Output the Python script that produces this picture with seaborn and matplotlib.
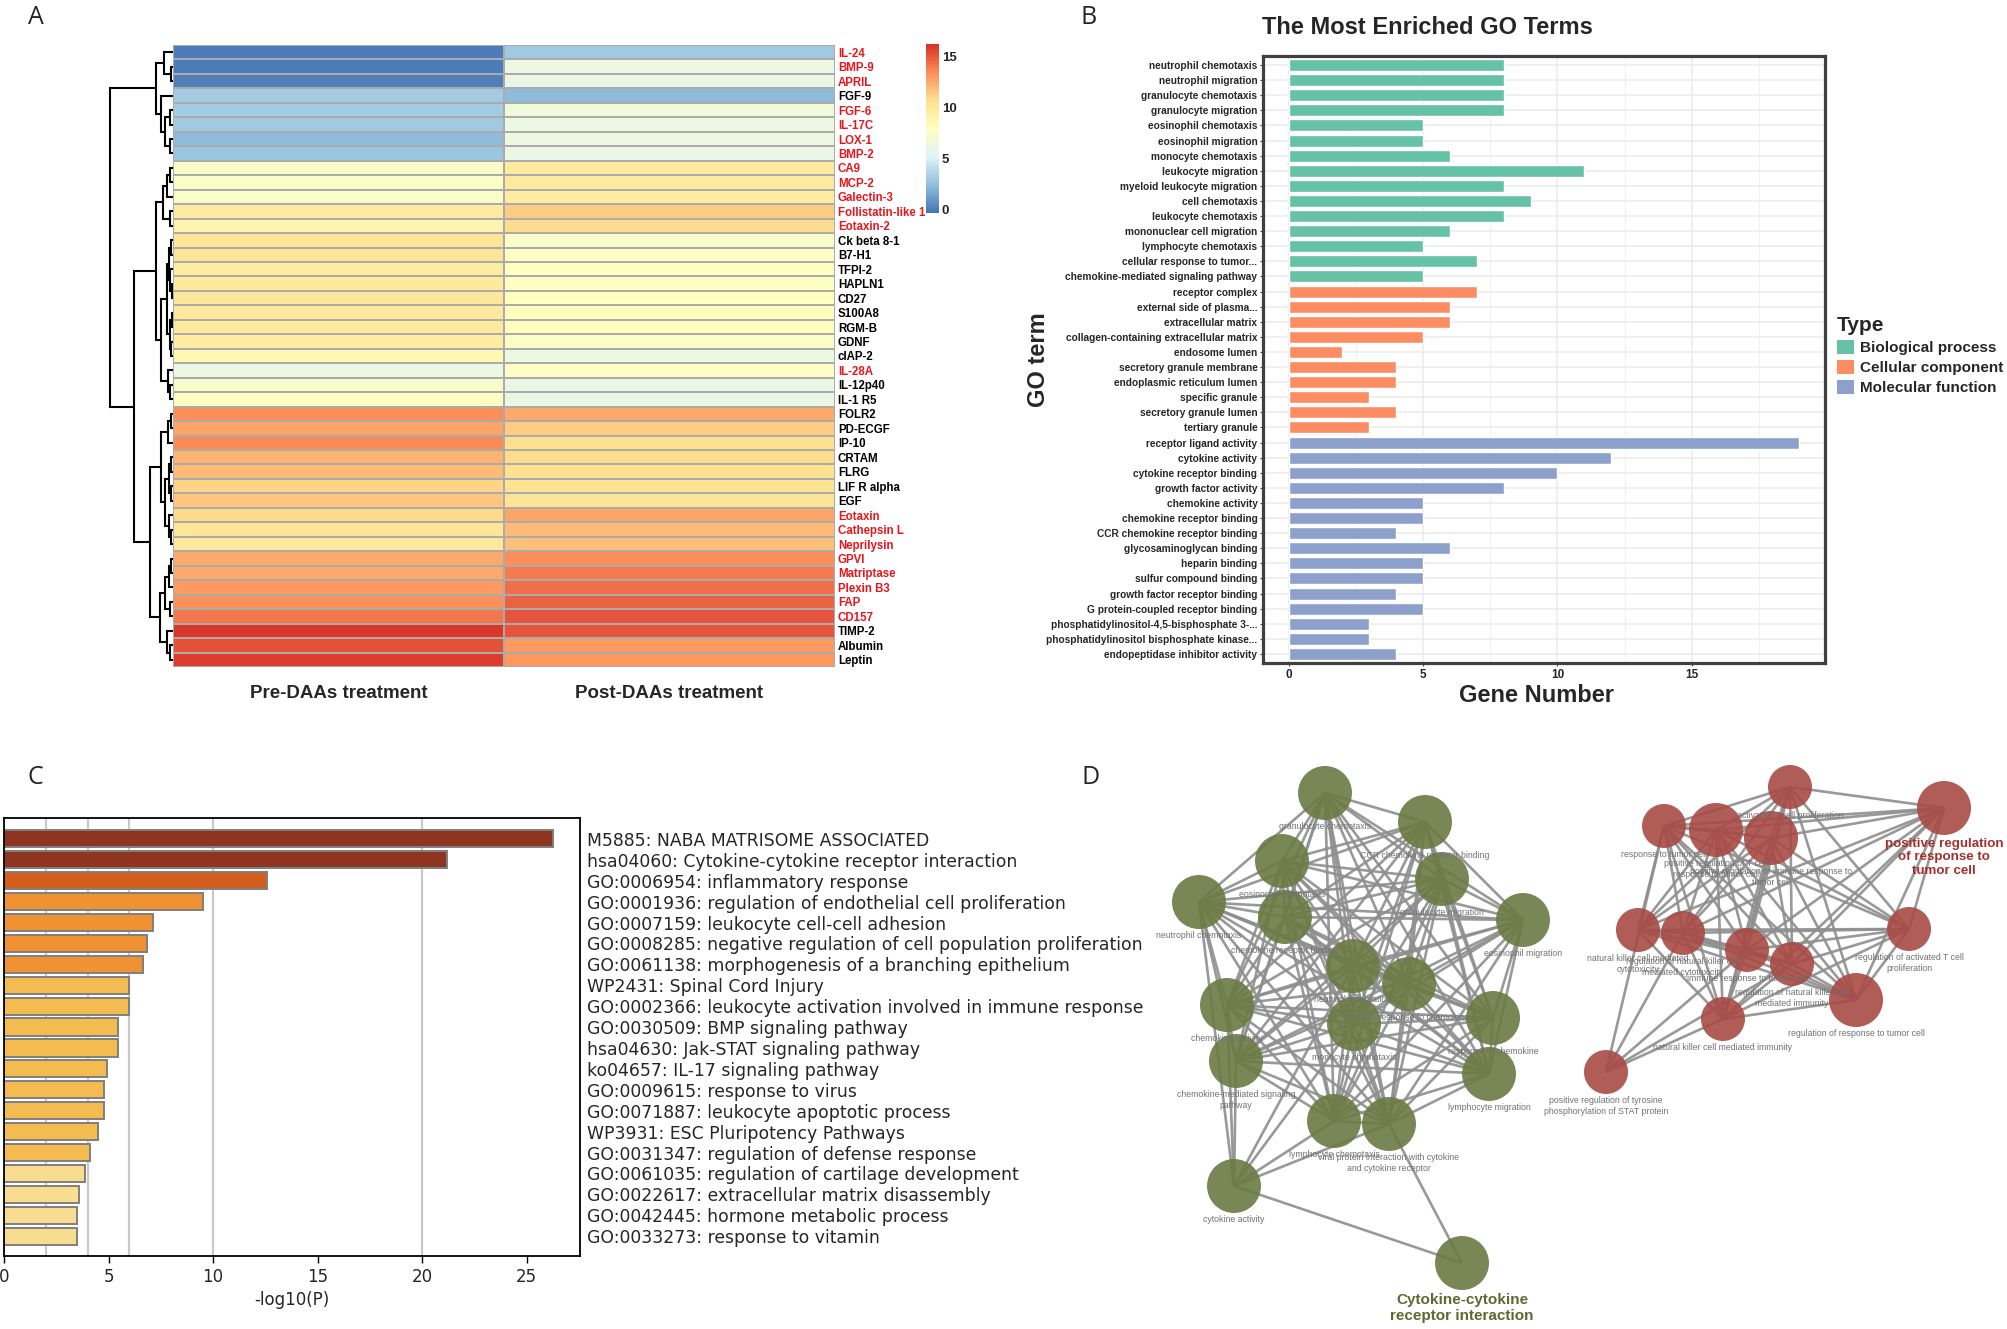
import itertools
import pandas as pd
import seaborn as sns
import matplotlib
matplotlib.use("Agg")
import matplotlib.pyplot as plt
from matplotlib import font_manager
from matplotlib.colors import LinearSegmentedColormap
from matplotlib.collections import LineCollection
from matplotlib.patches import Patch
from matplotlib.ticker import MultipleLocator

W, H = 2008, 1329

## A: cytokine heatmap ##
genes = ["IL-24", "BMP-9", "APRIL", "FGF-9", "FGF-6", "IL-17C", "LOX-1", "BMP-2",
         "CA9", "MCP-2", "Galectin-3", "Follistatin-like 1", "Eotaxin-2", "Ck beta 8-1",
         "B7-H1", "TFPI-2", "HAPLN1", "CD27", "S100A8", "RGM-B", "GDNF", "cIAP-2",
         "IL-28A", "IL-12p40", "IL-1 R5", "FOLR2", "PD-ECGF", "IP-10", "CRTAM", "FLRG",
         "LIF R alpha", "EGF", "Eotaxin", "Cathepsin L", "Neprilysin", "GPVI",
         "Matriptase", "Plexin B3", "FAP", "CD157", "TIMP-2", "Albumin", "Leptin"]
red_genes = ["IL-24", "BMP-9", "APRIL", "FGF-6", "IL-17C", "LOX-1", "BMP-2", "CA9",
             "MCP-2", "Galectin-3", "Follistatin-like 1", "Eotaxin-2", "IL-28A", "Eotaxin",
             "Cathepsin L", "Neprilysin", "GPVI", "Matriptase", "Plexin B3", "FAP", "CD157"]
pre = [0.0, 0.0, 0.1, 3.1, 3.1, 3.0, 2.4, 2.8,
       7.6, 7.6, 7.5, 9.7, 9.0, 10.3,
       10.3, 9.6, 9.9, 10.1, 10.0, 9.8, 9.6, 8.7,
       6.3, 7.3, 7.8, 13.4, 12.6, 13.5, 12.2, 11.9,
       11.1, 11.6, 10.9, 10.2, 10.0, 12.5,
       12.5, 13.0, 13.3, 14.1, 16.0, 15.2, 15.8]
post = [3.0, 6.3, 6.2, 2.3, 6.6, 6.3, 6.3, 6.2,
        9.8, 9.8, 9.6, 11.4, 10.8, 7.4,
        7.7, 7.9, 7.8, 7.9, 8.0, 8.0, 7.6, 6.4,
        7.7, 6.1, 6.1, 12.5, 11.4, 10.7, 10.8, 10.6,
        10.4, 10.3, 12.6, 11.9, 11.8, 13.4,
        14.0, 14.3, 14.7, 15.1, 15.1, 13.0, 13.1]
col_names = ["Pre-DAAs treatment", "Post-DAAs treatment"]
cbar_ticks = [0, 5, 10, 15]

# row dendrogram: (height, left, right), leaves are row numbers
row_tree = (1.0,
            (0.27, (0.14, 0, (0.03, 1, 2)),
                   (0.19, 3, (0.12, (0.04, 4, 5), (0.05, 6, 7)))),
            (0.62,
             (0.27, (0.16, (0.10, (0.04, 8, 9), 10), (0.05, 11, 12)),
                    (0.19, (0.10, (0.06, (0.03, 13, 14), (0.04, 15, (0.02, 16, 17))),
                                  (0.05, (0.02, 18, 19), (0.03, 20, 21))),
                           (0.08, 22, (0.04, 23, 24)))),
             (0.365, (0.19, (0.08, (0.03, 25, 26), 27),
                            (0.12, (0.06, (0.03, 28, 29), (0.03, 30, 31)),
                                   (0.07, 32, (0.03, 33, 34)))),
                     (0.21, (0.13, (0.06, (0.03, 35, 36), 37), (0.05, 38, 39)),
                            (0.10, 40, (0.05, 41, 42))))))

## B: GO terms ##
go_terms = ["neutrophil chemotaxis", "neutrophil migration", "granulocyte chemotaxis",
            "granulocyte migration", "eosinophil chemotaxis", "eosinophil migration",
            "monocyte chemotaxis", "leukocyte migration", "myeloid leukocyte migration",
            "cell chemotaxis", "leukocyte chemotaxis", "mononuclear cell migration",
            "lymphocyte chemotaxis", "cellular response to tumor...",
            "chemokine-mediated signaling pathway",
            "receptor complex", "external side of plasma...", "extracellular matrix",
            "collagen-containing extracellular matrix", "endosome lumen",
            "secretory granule membrane", "endoplasmic reticulum lumen", "specific granule",
            "secretory granule lumen", "tertiary granule",
            "receptor ligand activity", "cytokine activity", "cytokine receptor binding",
            "growth factor activity", "chemokine activity", "chemokine receptor binding",
            "CCR chemokine receptor binding", "glycosaminoglycan binding", "heparin binding",
            "sulfur compound binding", "growth factor receptor binding",
            "G protein-coupled receptor binding", "phosphatidylinositol-4,5-bisphosphate 3-...",
            "phosphatidylinositol bisphosphate kinase...", "endopeptidase inhibitor activity"]
go_counts = [8, 8, 8, 8, 5, 5, 6, 11, 8, 9, 8, 6, 5, 7, 5,
             7, 6, 6, 5, 2, 4, 4, 3, 4, 3,
             19, 12, 10, 8, 5, 5, 4, 6, 5, 5, 4, 5, 3, 3, 4]
go_types = (["Biological process"] * 15 + ["Cellular component"] * 10
            + ["Molecular function"] * 15)
type_colors = {"Biological process": "#66C2A5",
               "Cellular component": "#FC8D62",
               "Molecular function": "#8DA0CB"}

## C: enrichment bars ##
c_terms = ["M5885: NABA MATRISOME ASSOCIATED",
           "hsa04060: Cytokine-cytokine receptor interaction",
           "GO:0006954: inflammatory response",
           "GO:0001936: regulation of endothelial cell proliferation",
           "GO:0007159: leukocyte cell-cell adhesion",
           "GO:0008285: negative regulation of cell population proliferation",
           "GO:0061138: morphogenesis of a branching epithelium",
           "WP2431: Spinal Cord Injury",
           "GO:0002366: leukocyte activation involved in immune response",
           "GO:0030509: BMP signaling pathway",
           "hsa04630: Jak-STAT signaling pathway",
           "ko04657: IL-17 signaling pathway",
           "GO:0009615: response to virus",
           "GO:0071887: leukocyte apoptotic process",
           "WP3931: ESC Pluripotency Pathways",
           "GO:0031347: regulation of defense response",
           "GO:0061035: regulation of cartilage development",
           "GO:0022617: extracellular matrix disassembly",
           "GO:0042445: hormone metabolic process",
           "GO:0033273: response to vitamin"]
c_vals = [26.26, 21.18, 12.59, 9.50, 7.15, 6.84, 6.63, 6.00, 5.96, 5.47,
          5.43, 4.94, 4.77, 4.77, 4.49, 4.10, 3.89, 3.58, 3.51, 3.51]
c_colors = ["#8E3522", "#8E3522", "#D35E1B", "#F09233", "#F09233", "#F09233", "#F09233",
            "#F4BC50", "#F4BC50", "#F4BC50", "#F4BC50", "#F4BC50", "#F4BC50", "#F4BC50",
            "#F4BC50", "#F4BC50", "#F8DC90", "#F8DC90", "#F8DC90", "#F8DC90"]
c_lines = [2, 4, 6, 10, 20]

## D: enrichment network (Cytoscape layout units) ##
green_labels = ["granulocyte chemotaxis", "CCR chemokine receptor binding",
                "eosinophil chemotaxis", "neutrophil chemotaxis", "granulocyte migration",
                "chemokine receptor binding", "eosinophil migration", "neutrophil migration",
                "cellular response to chemokine", "chemokine activity", "monocyte chemotaxis",
                "response to chemokine", "chemokine-mediated signaling\npathway",
                "lymphocyte migration", "lymphocyte chemotaxis",
                "viral protein interaction with cytokine\nand cytokine receptor",
                "cytokine activity", "Cytokine-cytokine\nreceptor interaction"]
green_x = [1325, 1425, 1282, 1199, 1442, 1285, 1523, 1353, 1409, 1227, 1354, 1493, 1236,
           1489, 1334, 1389, 1234, 1462]
green_y = [793, 822, 861, 902, 879, 917, 920, 966, 984, 1005, 1024, 1018, 1061,
           1074, 1121, 1124, 1186, 1263]
green_r = [27] * 18
green_clique = list(range(16))
green_extra = [(16, 3), (16, 9), (16, 12), (16, 14), (16, 15), (16, 10), (16, 7),
               (16, 17), (17, 15)]

red_labels = ["activated T cell proliferation", "positive regulation\nof response to\ntumor cell",
              "response to tumor cell", "positive regulation of T cell\nresponse to tumor cell",
              "positive regulation of immune response to\ntumor cell",
              "natural killer cell mediated\ncytotoxicity",
              "regulation of natural killer cell\nmediated cytotoxicity",
              "immune response to tumor cell",
              "regulation of natural killer cell\nmediated immunity",
              "regulation of activated T cell\nproliferation",
              "regulation of response to tumor cell", "natural killer cell mediated immunity",
              "positive regulation of tyrosine\nphosphorylation of STAT protein"]
red_x = [1790, 1944, 1664, 1716, 1771, 1638, 1683, 1747, 1792, 1909, 1856, 1723, 1606]
red_y = [787, 808, 826, 830, 838, 930, 933, 950, 964, 929, 1000, 1019, 1072]
red_r = [22, 27, 22, 27, 27, 22, 22, 22, 22, 22, 27, 22, 22]
red_clique = list(range(12))
red_extra = [(12, 2), (12, 6), (12, 11), (12, 8), (12, 7)]

# ---------------------------------------------------------------- style
sns.set_theme(style="white")
installed = {f.name for f in font_manager.fontManager.ttflist}
NARROW = "Liberation Sans Narrow" if "Liberation Sans Narrow" in installed else "Liberation Sans"
plt.rcParams["font.family"] = ["Liberation Sans", "DejaVu Sans"]

fig = plt.figure(figsize=(W / 100, H / 100), dpi=100)


def box(l, t, r, b):
    return fig.add_axes([l / W, 1 - b / H, (r - l) / W, (b - t) / H])


# ---------------------------------------------------------------- A
axA = box(173, 45, 835, 667)
cax = box(926, 44, 939, 213)
axDen = box(105, 45, 173, 667)

pheat = LinearSegmentedColormap.from_list(
    "pheat", ["#4575B4", "#91BFDB", "#E0F3F8", "#FFFFBF", "#FEE090", "#FC8D59", "#D73027"])
heat_df = pd.DataFrame({col_names[0]: pre, col_names[1]: post}, index=genes)
sns.heatmap(heat_df, ax=axA, cmap=pheat, vmin=-0.3, vmax=16.2, linewidths=1.4,
            linecolor="#ABABAB", cbar_ax=cax, cbar_kws={"ticks": cbar_ticks},
            yticklabels=True)
axA.set_xlabel("")
axA.set_ylabel("")
axA.yaxis.tick_right()
axA.tick_params(axis="y", length=0, pad=2, labelsize=8.3, labelrotation=0)
for t in axA.get_yticklabels():
    t.set_color("#E8161C" if t.get_text() in red_genes else "black")
    t.set_fontweight("bold")
    t.set_fontfamily(NARROW)
axA.tick_params(axis="x", length=0, pad=13, labelsize=13.5, labelrotation=0)
for t in axA.get_xticklabels():
    t.set_fontweight("bold")
cbar = axA.collections[0].colorbar
cbar.outline.set_visible(False)
cax.tick_params(length=0, labelsize=9.5, pad=2)
for t in cax.get_yticklabels():
    t.set_fontweight("bold")


def draw_tree(node):
    if isinstance(node, int):
        return node + 0.5, 0.0
    h, left, right = node
    yl, hl = draw_tree(left)
    yr, hr = draw_tree(right)
    axDen.plot([hl, h, h, hr], [yl, yl, yr, yr], color="black", lw=1.5,
               solid_joinstyle="miter")
    return (yl + yr) / 2, h


draw_tree(row_tree)
axDen.set_xlim(1.079, 0)
axDen.set_ylim(len(genes), 0)
axDen.axis("off")

# ---------------------------------------------------------------- B
axB = box(1263, 56, 1825, 663)
go_df = pd.DataFrame({"term": go_terms, "count": go_counts, "type": go_types})
sns.barplot(data=go_df, x="count", y="term", hue="type", palette=type_colors,
            order=go_terms, dodge=False, width=0.8, saturation=1, legend=False, ax=axB)
axB.set_xlim(-0.95, 19.95)
axB.set_ylim(39.6, -0.6)
axB.set_xticks([0, 5, 10, 15])
axB.xaxis.set_minor_locator(MultipleLocator(2.5))
axB.set_axisbelow(True)
axB.grid(True, which="major", color="#EBEBEB", lw=1.1)
axB.grid(True, which="minor", axis="x", color="#F0F0F0", lw=0.7)
for s in axB.spines.values():
    s.set_color("#404040")
    s.set_linewidth(2.3)
axB.tick_params(axis="y", left=True, length=2.5, width=0.8, color="#444444",
                labelsize=7.3, pad=1.5)
axB.tick_params(axis="x", bottom=True, length=2.5, width=0.8, color="#444444",
                labelsize=8.5, pad=2)
for t in axB.get_yticklabels() + axB.get_xticklabels():
    t.set_fontweight("bold")
axB.set_xlabel("")
axB.set_ylabel("")
fig.text(1262 / W, 1 - 28 / H, "The Most Enriched GO Terms", ha="left", va="center",
         fontsize=17, fontweight="bold")
fig.text(1039 / W, 1 - 360 / H, "GO term", rotation=90, ha="center", va="center",
         fontsize=17, fontweight="bold")
fig.text(1537 / W, 1 - 696 / H, "Gene Number", ha="center", va="center",
         fontsize=17, fontweight="bold")
handles = [Patch(facecolor=c, edgecolor="none", label=k) for k, c in type_colors.items()]
leg = fig.legend(handles=handles, title="Type", loc="upper left",
                 bbox_to_anchor=(1837 / W, 1 - 316 / H), frameon=False, fontsize=11,
                 title_fontproperties={"weight": "bold", "size": 15},
                 handlelength=1.1, handleheight=1.1, handletextpad=0.4,
                 labelspacing=0.3, borderaxespad=0, borderpad=0, alignment="left")
for t in leg.get_texts():
    t.set_fontweight("bold")

# ---------------------------------------------------------------- C
axC = box(4, 818, 580, 1256)
sns.barplot(x=c_vals, y=c_terms, hue=c_terms, palette=c_colors, legend=False,
            saturation=1, width=0.82, edgecolor="#7F7F7F", linewidth=1.4, ax=axC)
for v in c_lines:
    axC.axvline(v, color="#C9C9C9", lw=1.6, zorder=0.5)
axC.set_xlim(0, 27.55)
axC.set_ylim(19.95, -1.0)
axC.set_xticks([0, 5, 10, 15, 20, 25])
axC.yaxis.tick_right()
axC.tick_params(axis="y", right=False, length=0, pad=5, labelsize=12.4)
axC.tick_params(axis="x", bottom=True, length=5, width=1, color="black", labelsize=12)
for t in axC.get_yticklabels() + axC.get_xticklabels():
    t.set_fontfamily("DejaVu Sans")
for s in axC.spines.values():
    s.set_color("black")
    s.set_linewidth(1.3)
fig.text(292 / W, 1 - 1300 / H, "-log10(P)", ha="center", va="center", fontsize=12,
         family="DejaVu Sans")

# ---------------------------------------------------------------- D
axD = box(1095, 760, 2008, 1329)
axD.set_xlim(1095, 2008)
axD.set_ylim(1329, 760)
axD.axis("off")


def draw_cluster(xs, ys, rs, labels, clique, extra, color, hub, hub_color, hub_size):
    pairs = list(itertools.combinations(clique, 2)) + extra
    segs = [[(xs[i], ys[i]), (xs[j], ys[j])] for i, j in pairs]
    axD.add_collection(LineCollection(segs, colors="#8E8E8E", linewidths=1.9,
                                      alpha=0.9, zorder=1))
    sizes = [(2 * r * 0.72) ** 2 for r in rs]
    axD.scatter(xs, ys, s=sizes, color=color, alpha=0.9, linewidths=0, zorder=2)
    for k, (x, y, r, lab) in enumerate(zip(xs, ys, rs, labels)):
        if k == hub:
            axD.text(x, y + r + 3, lab, ha="center", va="top", fontsize=hub_size,
                     fontweight="bold", color=hub_color, family=NARROW,
                     linespacing=1.15, zorder=4)
        else:
            axD.text(x, y + r + 2, lab, ha="center", va="top", fontsize=6.3,
                     color="#727272", linespacing=1.35, zorder=3)


draw_cluster(green_x, green_y, green_r, green_labels, green_clique, green_extra,
             "#6B7A43", 17, "#5B6B30", 11)
draw_cluster(red_x, red_y, red_r, red_labels, red_clique, red_extra,
             "#A84A45", 1, "#A3302C", 9.6)

# ---------------------------------------------------------------- panel letters
for letter, px, py in [("A", 36, 17), ("B", 1089, 17), ("C", 35, 777), ("D", 1091, 777)]:
    fig.text(px / W, 1 - py / H, letter, ha="center", va="center", fontsize=18,
             family=["Open Sans", "DejaVu Sans"])

fig.savefig("out.png", dpi=100)
